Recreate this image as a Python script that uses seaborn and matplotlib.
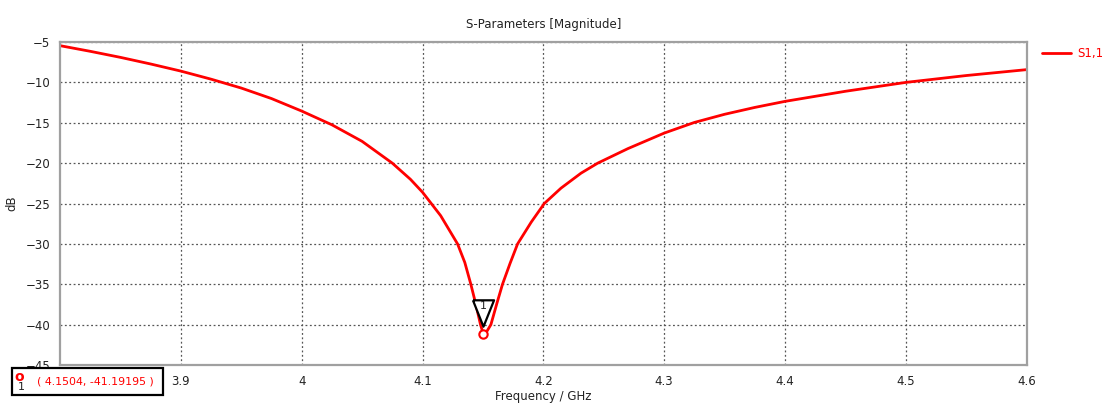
import matplotlib
matplotlib.use("Agg")
import matplotlib.pyplot as plt
import matplotlib.transforms as mtransforms
from matplotlib.patches import Rectangle
import seaborn as sns
import pandas as pd

# S1,1 magnitude
freq_ghz = [3.800, 3.825, 3.850, 3.875, 3.900, 3.925, 3.950, 3.975, 4.000, 4.025,
            4.050, 4.075, 4.090, 4.100, 4.115, 4.129, 4.135, 4.140, 4.144, 4.148,
            4.1504, 4.153, 4.1566, 4.1615, 4.1662, 4.1725, 4.1787, 4.190, 4.2008, 4.2146,
            4.2312, 4.245, 4.270, 4.300, 4.325, 4.350, 4.375, 4.400, 4.450, 4.500,
            4.550, 4.600]
s11_db = [-5.45, -6.15, -6.90, -7.72, -8.60, -9.60, -10.70, -12.00, -13.55, -15.25,
          -17.30, -20.00, -22.00, -23.60, -26.50, -30.00, -32.30, -35.00, -37.40, -40.00,
          -41.19195, -40.90, -40.00, -37.40, -35.00, -32.40, -30.00, -27.30, -25.00, -23.10,
          -21.24, -20.00, -18.20, -16.28, -14.96, -13.95, -13.10, -12.35, -11.10, -10.00,
          -9.15, -8.42]
marker_freq = 4.1504
marker_db = -41.19195
x_ticks = [3.9, 4.0, 4.1, 4.2, 4.3, 4.4, 4.5, 4.6]
x_tick_labels = ["3.9", "4", "4.1", "4.2", "4.3", "4.4", "4.5", "4.6"]
y_ticks = [-45, -40, -35, -30, -25, -20, -15, -10, -5]

df = pd.DataFrame({"Frequency": freq_ghz, "S1,1": s11_db})

sns.set_style("white")
plt.rcParams["font.family"] = ["DejaVu Sans"]

fig = plt.figure(figsize=(11.03, 4.08), dpi=100)
ax = fig.add_axes([0.0544, 0.1054, 0.8764, 0.7916])

sns.lineplot(data=df, x="Frequency", y="S1,1", color="#ff0000", linewidth=2,
             ax=ax, label="S1,1")

ax.set_xlim(3.8, 4.6)
ax.set_ylim(-45, -5)
ax.set_xticks(x_ticks)
ax.set_xticklabels(x_tick_labels)
ax.set_yticks(y_ticks)
ax.tick_params(axis="both", labelsize=8.5, length=4, color="#808080",
               colors="#222222", pad=3)
ax.grid(True, linestyle=(0, (1.5, 2)), color="#555555", linewidth=0.9)
for sp in ax.spines.values():
    sp.set_color("#a0a0a0")
    sp.set_linewidth(1.6)

ax.set_title("S-Parameters [Magnitude]", fontsize=8.5, color="#222222", pad=10)
ax.set_xlabel("Frequency / GHz", fontsize=8.5, color="#222222", labelpad=2)
ax.set_ylabel("dB", fontsize=8.5, color="#222222")
ax.yaxis.set_label_coords(-0.043, 0.5)

# marker: open red circle at the minimum, black triangle above it
ax.plot([marker_freq], [marker_db], marker="o", markersize=6, mfc="white",
        mec="#ff0000", mew=1.5, linestyle="none", zorder=5)
tri = [(-0.4, 0.5), (0.4, 0.5), (0.0, -0.5), (-0.4, 0.5)]
off = mtransforms.offset_copy(ax.transData, fig=fig, x=0, y=15, units="points")
ax.plot([marker_freq], [marker_db], marker=tri, markersize=19, mfc="white",
        mec="black", mew=1.6, linestyle="none", transform=off, zorder=6)
off_txt = mtransforms.offset_copy(ax.transData, fig=fig, x=0, y=20, units="points")
ax.text(marker_freq, marker_db, "1", transform=off_txt, ha="center", va="center",
        fontsize=8, color="#222222", zorder=7)

leg = ax.legend(loc="upper left", bbox_to_anchor=(1.0107, 1.0), frameon=False,
                fontsize=8.5, handlelength=2.5, handletextpad=0.5, borderaxespad=0)
for t in leg.get_texts():
    t.set_color("#ff0000")

# marker readout box in the lower-left corner
fig.patches.append(Rectangle((12 / 1103, 1 - 395 / 408), 151 / 1103, 27 / 408,
                             transform=fig.transFigure, fc="white", ec="black",
                             lw=1.6, zorder=10))
fig.text(37 / 1103, 1 - 381 / 408, f"( {marker_freq}, {marker_db} )", fontsize=7.9,
         color="#ff0000", va="center", ha="left", zorder=11)
fig.text(14 / 1103, 1 - 377 / 408, "o", fontsize=10, color="#ff0000",
         fontweight="bold", va="center", ha="left", zorder=11)
fig.text(18 / 1103, 1 - 387 / 408, "1", fontsize=8, color="#222222",
         va="center", ha="left", zorder=11)

fig.savefig("out.png", dpi=100)
